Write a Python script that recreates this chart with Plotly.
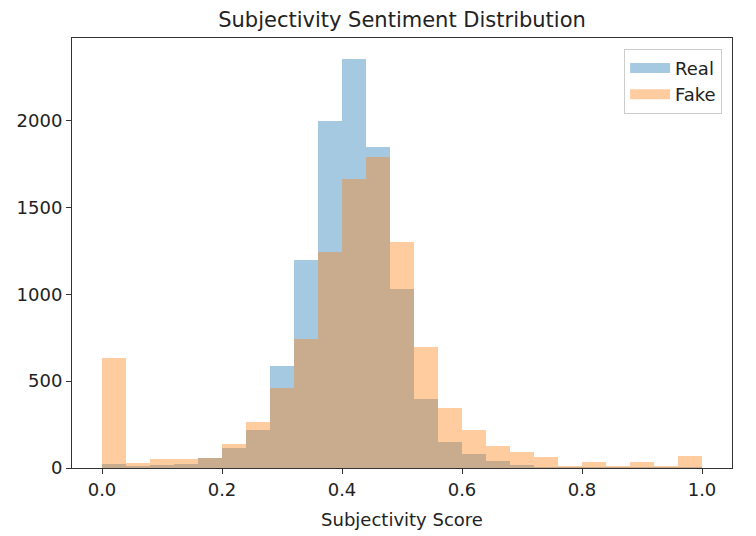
import numpy as np
import plotly.graph_objects as go

bin_edges = np.linspace(0.0, 1.0, 26)
real_counts = [25, 12, 20, 25, 60, 117, 221, 586, 1198, 1995, 2357, 1845,
               1031, 400, 150, 83, 39, 15, 8, 5, 5, 3, 3, 3, 5]
fake_counts = [631, 29, 52, 52, 60, 140, 265, 458, 742, 1246, 1663, 1790,
               1300, 698, 346, 221, 127, 92, 62, 14, 35, 14, 35, 14, 69]

centers = (bin_edges[:-1] + bin_edges[1:]) / 2
widths = np.diff(bin_edges)

REAL_C = "rgba(31,119,180,0.4)"
FAKE_C = "rgba(255,127,14,0.4)"

fig = go.Figure()
fig.add_trace(go.Bar(x=centers, y=real_counts, width=widths, name="Real",
                     marker=dict(color=REAL_C, line=dict(width=0)), showlegend=False))
fig.add_trace(go.Bar(x=centers, y=fake_counts, width=widths, name="Fake",
                     marker=dict(color=FAKE_C, line=dict(width=0)), showlegend=False))
# legend patches (matplotlib-style wide rectangles)
fig.add_trace(go.Scatter(x=[None], y=[None], mode="lines", name="Real",
                         line=dict(color=REAL_C, width=13)))
fig.add_trace(go.Scatter(x=[None], y=[None], mode="lines", name="Fake",
                         line=dict(color=FAKE_C, width=13)))

fig.update_layout(
    barmode="overlay",
    width=748, height=528,
    margin=dict(l=64, r=24, t=30, b=68),
    plot_bgcolor="white", paper_bgcolor="white",
    font=dict(family="DejaVu Sans", size=18, color="#222222"),
    title=dict(text="Subjectivity Sentiment Distribution", x=0.5, xanchor="center",
               xref="paper", y=1, yanchor="top", pad=dict(t=4, b=0),
               font=dict(size=21)),
    xaxis=dict(range=[-0.05, 1.05], tickvals=[0, 0.2, 0.4, 0.6, 0.8, 1.0],
               ticktext=["0.0", "0.2", "0.4", "0.6", "0.8", "1.0"],
               ticks="outside", ticklen=5, tickcolor="#333333",
               showline=True, linecolor="#333333", linewidth=1, mirror=True,
               showgrid=False, zeroline=False, tickfont=dict(size=18),
               automargin=False,
               title=dict(text="Subjectivity Score", standoff=14, font=dict(size=18))),
    yaxis=dict(range=[0, 2475], tickvals=[0, 500, 1000, 1500, 2000],
               ticks="outside", ticklen=5, tickcolor="#333333",
               showline=True, linecolor="#333333", linewidth=1, mirror=True,
               showgrid=False, zeroline=False, tickfont=dict(size=18),
               automargin=False),
    legend=dict(x=0.985, xanchor="right", y=0.975, yanchor="top",
                bordercolor="#cccccc", borderwidth=1, bgcolor="rgba(255,255,255,0.8)",
                font=dict(size=18), tracegroupgap=0, itemwidth=40),
    bargap=0,
)

fig.write_html("out.html")
